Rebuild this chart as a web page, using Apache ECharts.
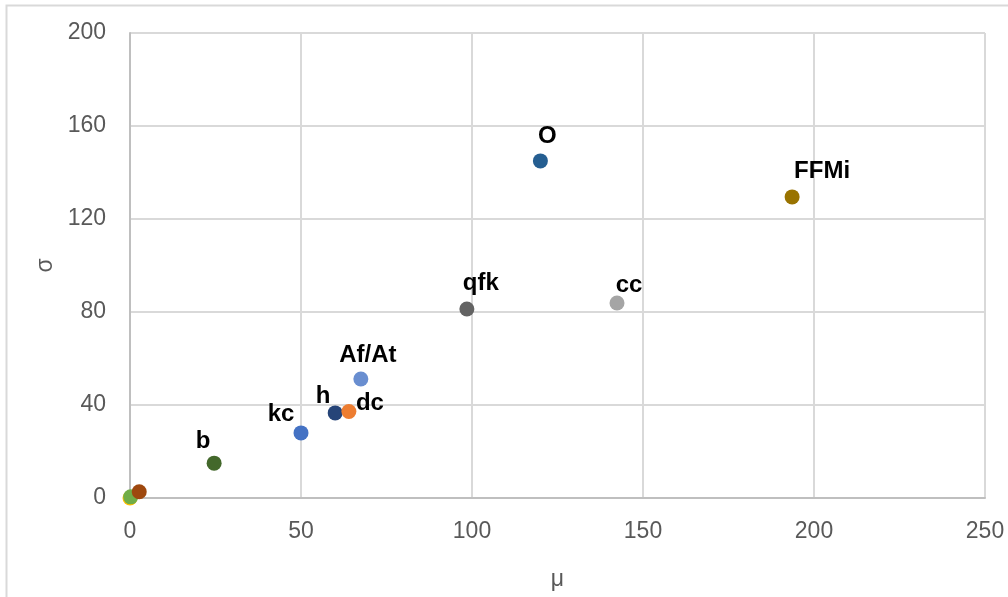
<!DOCTYPE html>
<html>
<head>
<meta charset="utf-8">
<script src="https://cdn.jsdelivr.net/npm/echarts@6/dist/echarts.min.js"></script>
<style>
  html, body { margin: 0; padding: 0; background: #fff; }
  #chart { width: 1008px; height: 597px; }
</style>
</head>
<body>
<div id="chart"></div>
<script>
// Point names, mean (μ) and spread (σ) for each item
const names  = ['', '', '', 'b', 'kc', 'h', 'dc', 'Af/At', 'qfk', 'O', 'cc', 'FFMi'];
const mu     = [0, 0.2, 2.7, 24.6, 50, 60, 64, 67.5, 98.5, 120, 142.4, 193.6];
const sigma  = [0, 0.5, 2.7, 15, 28, 36.6, 37.2, 51.2, 81.3, 145, 83.9, 129.5];

// Axis ticks
const xTicks = [0, 50, 100, 150, 200, 250];
const yTicks = [0, 40, 80, 120, 160, 200];

// Marker colours and label nudges (pixels) for each point
const colors = ['#FFC000', '#70AD47', '#9E480E', '#43682B', '#4472C4', '#264478',
                '#ED7D31', '#698ED0', '#636363', '#255E91', '#A5A5A5', '#997300'];
const labelShift = [[0,0],[0,0],[0,0],[-11,-22],[-20,-19],[-12,-17],[21,-8],
                    [7,-24],[14,-26],[7,-25],[12,-18],[30,-26]];

const labelFont = {
  fontFamily: 'Liberation Sans',
  fontWeight: 'bold',
  fontSize: 24,
  color: '#000000',
  textBorderWidth: 0,
  align: 'center',
  verticalAlign: 'middle'
};

const points = mu.map((m, i) => ({
  value: [m, sigma[i]],
  name: names[i],
  itemStyle: { color: colors[i], opacity: 1 },
  label: Object.assign({
    show: names[i] !== '',
    position: 'inside',
    offset: labelShift[i],
    formatter: names[i]
  }, labelFont)
}));

const gridColor = '#d9d9d9';
const tickFont = { fontFamily: 'Liberation Sans', fontSize: 23, color: '#595959' };

const chart = echarts.init(document.getElementById('chart'), null, { renderer: 'canvas' });
chart.setOption({
  animation: false,
  backgroundColor: '#ffffff',
  graphic: [{
    type: 'rect',
    shape: { x: 6.5, y: 5.5, width: 1100, height: 700 },
    style: { fill: 'none', stroke: '#d9d9d9', lineWidth: 2 },
    silent: true
  }],
  grid: { left: 130, top: 33, right: 23, bottom: 99, containLabel: false },
  xAxis: {
    type: 'value',
    min: xTicks[0],
    max: xTicks[xTicks.length - 1],
    interval: xTicks[1] - xTicks[0],
    name: 'μ',
    nameLocation: 'middle',
    nameGap: 70,
    nameTextStyle: { fontFamily: 'Liberation Sans', fontSize: 23, color: '#595959' },
    axisLine: { show: true, lineStyle: { color: '#bfbfbf', width: 2 } },
    axisTick: { show: false },
    axisLabel: Object.assign({ margin: 22 }, tickFont),
    splitLine: { show: true, lineStyle: { color: gridColor, width: 2 } }
  },
  yAxis: {
    type: 'value',
    min: yTicks[0],
    max: yTicks[yTicks.length - 1],
    interval: yTicks[1] - yTicks[0],
    name: 'σ',
    nameLocation: 'middle',
    nameGap: 72,
    nameRotate: 90,
    nameTextStyle: { fontFamily: 'Liberation Sans', fontSize: 23, color: '#595959' },
    axisLine: { show: true, lineStyle: { color: '#bfbfbf', width: 2 } },
    axisTick: { show: false },
    axisLabel: Object.assign({ margin: 24 }, tickFont),
    splitLine: { show: true, lineStyle: { color: gridColor, width: 2 } }
  },
  series: [{
    type: 'scatter',
    symbol: 'circle',
    symbolSize: 15,
    itemStyle: { opacity: 1 },
    data: points,
    label: labelFont,
    emphasis: { disabled: true }
  }]
});
</script>
</body>
</html>
